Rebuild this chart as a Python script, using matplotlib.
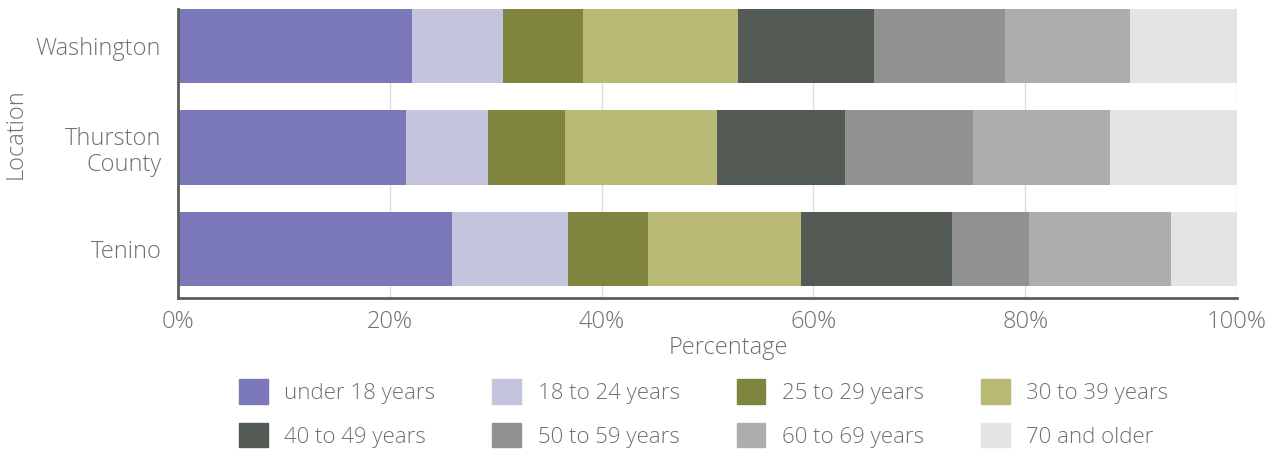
import numpy as np
import matplotlib as mat
mat.use('Agg')
import matplotlib.pyplot as plt
from matplotlib.patches import Patch

locations = ['Washington', 'Thurston\nCounty', 'Tenino']
age_groups = ['under 18 years', '18 to 24 years', '25 to 29 years', '30 to 39 years',
              '40 to 49 years', '50 to 59 years', '60 to 69 years', '70 and older']

# percentages per age group, ordered like locations
under18 = [22.1, 21.5, 25.9]
y18_24 = [8.6, 7.8, 10.9]
y25_29 = [7.5, 7.2, 7.6]
y30_39 = [14.7, 14.4, 14.4]
y40_49 = [12.8, 12.1, 14.3]
y50_59 = [12.4, 12.1, 7.3]
y60_69 = [11.8, 12.9, 13.4]
y70_up = [10.1, 12.0, 6.2]

colors = ['#7b79b9', '#c5c4dd', '#7f843f', '#b8b974',
          '#545b54', '#919191', '#acaeac', '#e4e4e4']

plt.rcParams['font.family'] = ['Open Sans', 'DejaVu Sans']
txt = '#707070'
fw = 'light'
fs = 17
lfs = 16

fig = plt.figure(figsize=(12.68, 4.49), dpi=100)
ax = fig.add_axes([178 / 1268, 1 - 298 / 449, (1237 - 178) / 1268, 289 / 449])

series = [under18, y18_24, y25_29, y30_39, y40_49, y50_59, y60_69, y70_up]
ypos = np.arange(len(locations))
left = np.zeros(len(locations))
for vals, c, name in zip(series, colors, age_groups):
    ax.barh(ypos, vals, left=left, height=0.73, color=c, label=name, zorder=2)
    left += np.array(vals)

ax.set_xlim(0, 100)
ax.set_ylim(2.483, -0.365)
ax.set_yticks(ypos)
ax.set_yticklabels(locations, fontsize=fs, color=txt, fontweight=fw, linespacing=1.12)
ax.set_xticks(np.arange(0, 101, 20))
ax.set_xticklabels(['%d%%' % v for v in range(0, 101, 20)], fontsize=fs, color=txt, fontweight=fw)
ax.tick_params(axis='y', length=0, pad=12)
ax.tick_params(axis='x', length=0, pad=9)
ax.grid(axis='x', color='#dddddd', linewidth=1, zorder=0)
ax.set_axisbelow(True)
for s in ['top', 'right']:
    ax.spines[s].set_visible(False)
for s in ['left', 'bottom']:
    ax.spines[s].set_color('#5a5f5a')
    ax.spines[s].set_linewidth(2)

ax.set_xlabel('Percentage', fontsize=fs, color=txt, fontweight=fw)
ax.set_ylabel('Location', fontsize=fs, color=txt, fontweight=fw)
ax.xaxis.set_label_coords(0.52, -0.13)
ax.yaxis.set_label_coords(-0.142, 0.57)

handles = [Patch(color=c) for c in colors]
order = [0, 4, 1, 5, 2, 6, 3, 7]
leg = fig.legend([handles[i] for i in order], [age_groups[i] for i in order],
                 ncol=4, loc='center', bbox_to_anchor=(0.555, 0.079), frameon=False,
                 fontsize=lfs, handlelength=1.3, handleheight=1.3, columnspacing=2.55,
                 labelspacing=0.87, handletextpad=0.75)
for t in leg.get_texts():
    t.set_color(txt)
    t.set_fontweight(fw)

fig.savefig('out.png', dpi=100)
